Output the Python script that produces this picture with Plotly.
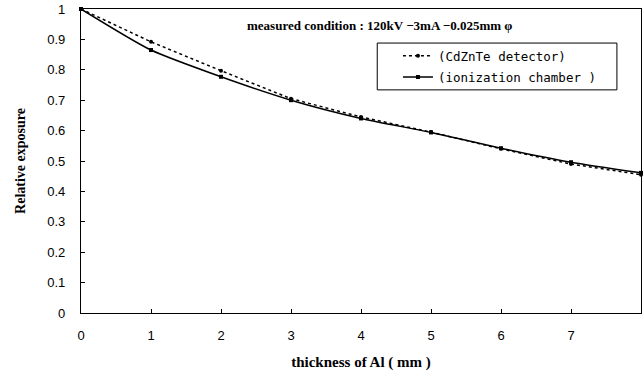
import plotly.graph_objects as go

thickness = [0, 1, 2, 3, 4, 5, 6, 7, 8]
cdznte = [1.0, 0.892, 0.797, 0.705, 0.645, 0.595, 0.540, 0.490, 0.455]
ion_chamber = [1.0, 0.865, 0.777, 0.700, 0.640, 0.594, 0.542, 0.496, 0.461]

x_ticks = [0, 1, 2, 3, 4, 5, 6, 7, 8]
y_ticks = [0, 0.1, 0.2, 0.3, 0.4, 0.5, 0.6, 0.7, 0.8, 0.9, 1]
y_tick_text = ["0", "0.1", "0.2", "0.3", "0.4", "0.5", "0.6", "0.7", "0.8", "0.9", "1"]

fig = go.Figure()
fig.add_trace(go.Scatter(
    x=thickness, y=cdznte, mode="lines+markers", name="(CdZnTe detector)",
    legendgroup="a",
    line=dict(color="black", width=1.5, dash="dot"),
    marker=dict(color="black", size=4, symbol="circle"),
    cliponaxis=False,
))
fig.add_trace(go.Scatter(
    x=thickness, y=ion_chamber, mode="lines+markers", name="(ionization chamber )",
    legendgroup="b",
    line=dict(color="black", width=1.5, shape="spline", smoothing=0.6),
    marker=dict(color="black", size=4, symbol="square"),
    cliponaxis=False,
))

fig.update_layout(
    width=643, height=376,
    margin=dict(l=81, r=2, t=9, b=63),
    paper_bgcolor="white", plot_bgcolor="white",
    font=dict(family="Liberation Sans, Arial", size=13, color="black"),
    showlegend=True,
    legend=dict(
        x=0.566, y=0.894, xanchor="left", yanchor="top",
        borderwidth=0, bgcolor="rgba(0,0,0,0)",
        font=dict(family="DejaVu Sans Mono", size=12.5, color="black"),
        itemwidth=30, tracegroupgap=2,
    ),
    shapes=[dict(
        type="rect", xref="paper", yref="paper",
        x0=0.529, x1=0.957, y0=0.734, y1=0.888,
        line=dict(color="black", width=1), fillcolor="white", layer="below",
    )],
    xaxis=dict(
        range=[0, 8], tickvals=x_ticks, ticktext=[str(v) for v in x_ticks],
        showgrid=False, zeroline=False, showline=True, linecolor="black", linewidth=1.2,
        mirror=True, ticks="inside", ticklen=4, tickcolor="black",
        ticklabelstandoff=10,
        tickfont=dict(family="Liberation Sans, Arial", size=13, color="black"),
        title=dict(text="<b>thickness of Al ( mm )</b>", standoff=14,
                   font=dict(family="Liberation Serif, Times New Roman", size=15)),
    ),
    yaxis=dict(
        range=[0, 1], tickvals=y_ticks, ticktext=y_tick_text,
        showgrid=False, zeroline=False, showline=True, linecolor="black", linewidth=1.2,
        mirror=True, ticks="inside", ticklen=4, tickcolor="black",
        ticklabelstandoff=12,
        tickfont=dict(family="Liberation Sans, Arial", size=13, color="black"),
        title=dict(text="<b>Relative exposure</b>", standoff=18,
                   font=dict(family="Liberation Serif, Times New Roman", size=14)),
    ),
    annotations=[dict(
        text="<b>measured condition : 120kV −3mA −0.025mm φ</b>",
        xref="paper", yref="paper", x=0.293, y=0.947, xanchor="left", yanchor="middle",
        showarrow=False, font=dict(family="Liberation Serif, Times New Roman", size=13, color="black"),
    )],
)

fig.write_html(
    "out.html",
    config={"displayModeBar": False},
    post_script="document.body.style.margin='0';document.body.style.overflow='hidden';",
)
